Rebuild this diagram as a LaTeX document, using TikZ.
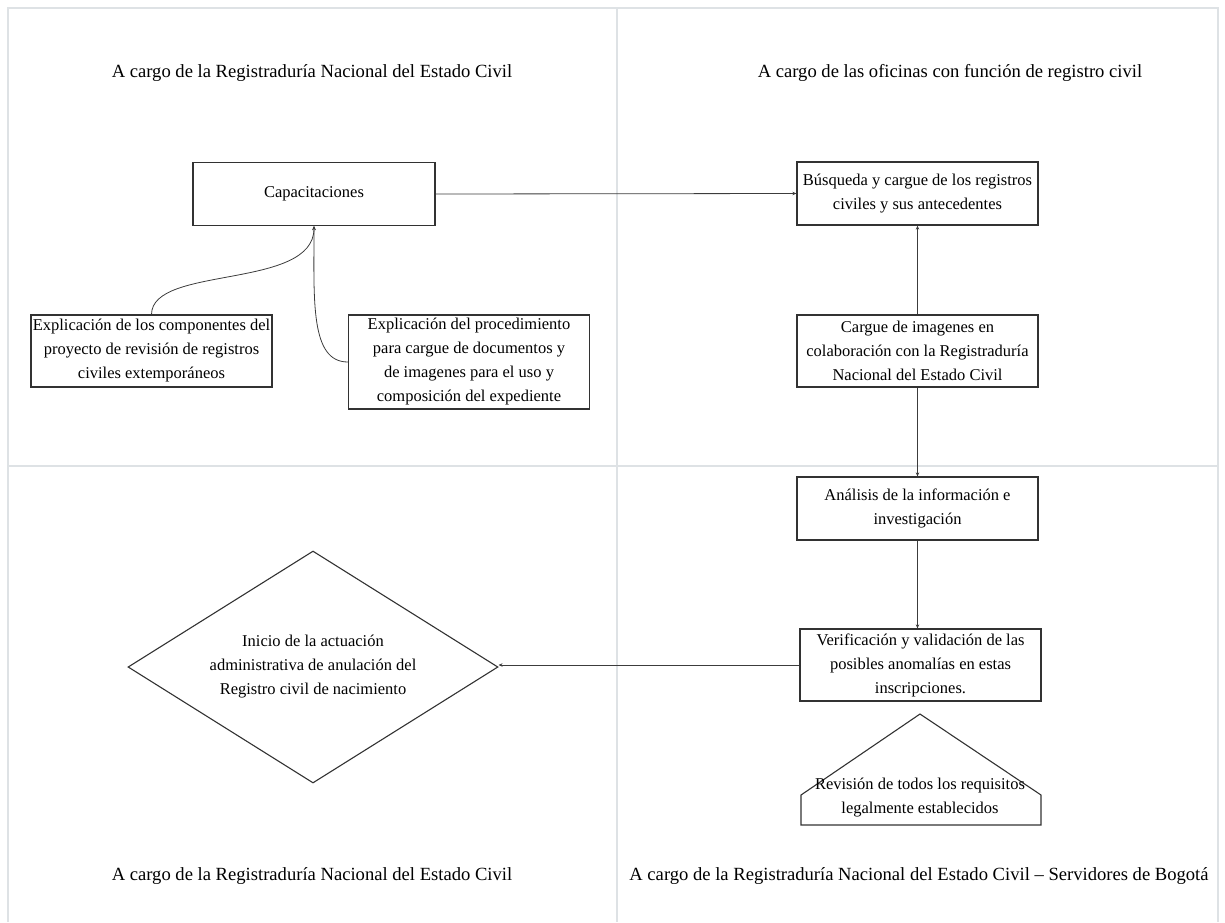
\documentclass[tikz,border=0pt]{standalone}
\usepackage{fontspec}
\setmainfont{Liberation Serif}
\usetikzlibrary{shapes.geometric,arrows.meta}
\definecolor{gridc}{RGB}{222,226,229}
\definecolor{boxc}{RGB}{50,50,50}
\definecolor{linec}{RGB}{60,60,60}
\tikzset{
  stepbox/.style={draw=boxc,line width=1.3pt,align=center,inner sep=0pt,
    font=\fontsize{16.5}{24}\selectfont},
  plaintext/.style={align=center,inner sep=0pt,font=\fontsize{16.5}{24}\selectfont},
  heading/.style={align=center,font=\fontsize{18.6}{22}\selectfont},
  conn/.style={draw=linec,line width=0.8pt,-{Stealth[length=4pt,width=3.5pt]}},
  gridline/.style={draw=gridc,line width=1.2pt}
}
\begin{document}
\begin{tikzpicture}[x=1pt,y=-1pt]
\useasboundingbox (0,0) rectangle (1225,922);
% frame and dividers
\draw[gridline] (8,922) -- (8,8) -- (1218,8) -- (1218,922);
\draw[gridline] (617,8) -- (617,922);
\draw[gridline] (8,466) -- (1218,466);
% headings
\node[heading] (h1) at (312,73) {A cargo de la Registraduría Nacional del Estado Civil};
\node[heading] (h2) at (950,73) {A cargo de las oficinas con función de registro civil};
\node[heading] (h3) at (312,876) {A cargo de la Registraduría Nacional del Estado Civil};
\node[heading] (h4) at (919,876) {A cargo de la Registraduría Nacional del Estado Civil – Servidores de Bogotá};
% boxes
\node[stepbox,minimum width=242pt,minimum height=63pt] (cap) at (314,194) {Capacitaciones};
\node[stepbox,minimum width=241pt,minimum height=63pt] (bus) at (917.5,193.5) {Búsqueda y cargue de los registros\\civiles y sus antecedentes};
\node[stepbox,minimum width=241pt,minimum height=72pt] (carg) at (917.5,351) {Cargue de imagenes en\\colaboración con la Registraduría\\Nacional del Estado Civil};
\node[stepbox,minimum width=241pt,minimum height=63pt] (ana) at (917.5,508.5) {Análisis de la información e\\investigación};
\node[stepbox,minimum width=241pt,minimum height=72pt] (ver) at (920.5,665) {Verificación y validación de las\\posibles anomalías en estas\\inscripciones.};
\node[stepbox,minimum width=241pt,minimum height=72pt] (exp1) at (151.5,351) {Explicación de los componentes del\\proyecto de revisión de registros\\civiles extemporáneos};
\node[stepbox,minimum width=241pt,minimum height=94pt] (exp2) at (469,362) {Explicación del procedimiento\\para cargue de documentos y\\de imagenes para el uso y\\composición del expediente};
% diamond
\node[draw=boxc,line width=1.1pt,shape=diamond,minimum width=370pt,minimum height=232pt,inner sep=0pt] (ini) at (313,667) {};
\node[plaintext] (initxt) at (ini.center) {Inicio de la actuación\\administrativa de anulación del\\Registro civil de nacimiento};
% pentagon
\coordinate (pa) at (920,714);
\coordinate (pl) at (801,795);
\coordinate (pr) at (1041,795);
\coordinate (pbl) at (801,825);
\coordinate (pbr) at (1041,825);
\draw[draw=boxc,line width=1.1pt] (pa) -- (pr) -- (pbr) -- (pbl) -- (pl) -- cycle;
\node[plaintext] (rev) at (920,798) {Revisión de todos los requisitos\\legalmente establecidos};
% connectors
\coordinate (capb) at (314,226);
\draw[conn] (exp1.north) .. controls (152,265) and (314,290) .. (capb);
\draw[conn] (exp2.west) .. controls (310,362) and (314,300) .. (capb);
\draw[conn] (cap.east) -- (bus.west);
\draw[conn] (carg.north) -- (bus.south);
\draw[conn] (carg.south) -- (ana.north);
\draw[conn] (ana.south) -- (ana.south |- ver.north);
\draw[conn] (ver.west) -- (ver.west -| ini.east);
\end{tikzpicture}
\end{document}
